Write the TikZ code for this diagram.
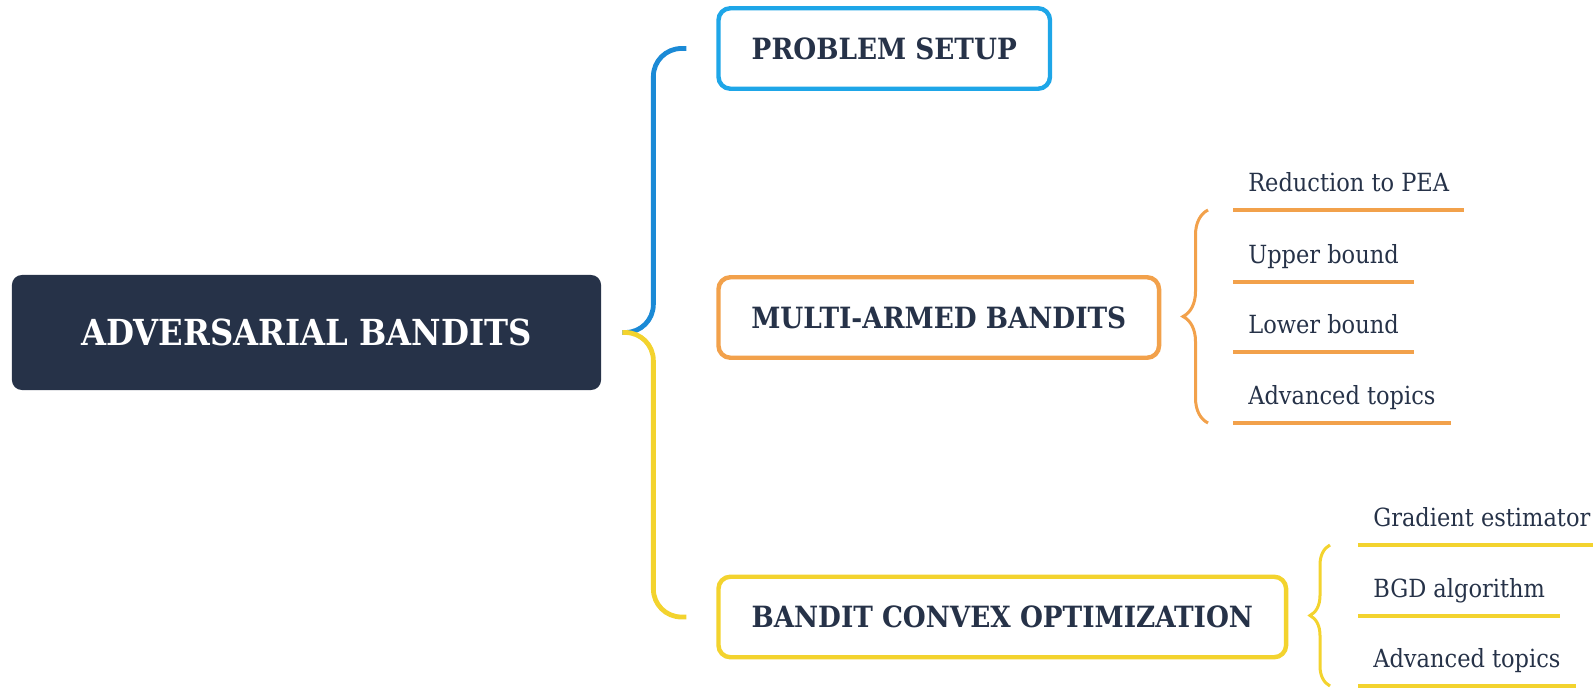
\documentclass[tikz,border=0pt]{standalone}
\usepackage{fontspec}
\setmainfont{DejaVu Serif Condensed}
\usepackage{tikz}
\usetikzlibrary{positioning,calc,decorations.pathreplacing}
\definecolor{MapNavy}{HTML}{263248}
\definecolor{MapBlue}{HTML}{1EA6E8}
\definecolor{MapBlueLine}{HTML}{1B8AD6}
\definecolor{MapOrange}{HTML}{F2A14B}
\definecolor{MapYellow}{HTML}{F3D32E}

\begin{document}
\begin{tikzpicture}[x=0.025cm, y=-0.025cm,
                    rootbox/.style={fill=MapNavy, rounded corners=0.25cm, text=white,
                                    minimum width=14.725cm, minimum height=2.875cm,
                                    font=\bfseries\fontsize{25.5}{30}\selectfont},
                    topic/.style={draw, line width=0.11cm, rounded corners=0.3cm, fill=white,
                                  anchor=west, text=MapNavy, minimum height=2.0125cm,
                                  font=\bfseries\fontsize{20.8}{25}\selectfont},
                    leaf/.style={anchor=south west, text=MapNavy, inner xsep=0.375cm, inner ysep=0cm,
                                 text height=0.5cm, text depth=0.45cm,
                                 font=\fontsize{17.8}{21}\selectfont},
                    branch/.style={line width=0.12cm, rounded corners=0.7cm},
                    uline/.style={line width=0.08cm},
                    subbrace/.style={line width=0.075cm, decorate,
                                     decoration={brace, amplitude=#1}}]
\useasboundingbox (0,0) rectangle (1593,688);
\node[rootbox] (root) at (306.5,332.5) {ADVERSARIAL BANDITS};
\node[topic, draw=MapBlue, minimum width=8.2875cm] (setup) at (716.25,48.5) {PROBLEM SETUP};
\node[topic, draw=MapOrange, minimum width=11.0125cm] (mab) at (716.25,317.5) {MULTI-ARMED BANDITS};
\node[topic, draw=MapYellow, minimum width=14.1875cm] (bco) at (716.25,617) {BANDIT CONVEX OPTIMIZATION};
\node[leaf] (pea) at (1233,210) {Reduction to PEA};
\node[leaf] (ub) at (1233,282) {Upper bound};
\node[leaf] (lb) at (1233,352) {Lower bound};
\node[leaf] (mabadv) at (1233,423) {Advanced topics};
\node[leaf] (grad) at (1358,545) {Gradient estimator};
\node[leaf] (bgd) at (1358,616) {BGD algorithm};
\node[leaf] (bcoadv) at (1358,686) {Advanced topics};
\draw[branch, MapBlueLine] ($(root.east)+(21,0)$) -- ++(31,0) |- ($(setup.west)+(-30,0)$);
\draw[branch, MapYellow] ($(root.east)+(21,0)$) -- ++(31,0) |- ($(bco.west)+(-30,0)$);
\foreach \n in {pea,ub,lb,mabadv}
  \draw[uline, MapOrange] (\n.south west) -- (\n.south east);
\foreach \n in {grad,bgd,bcoadv}
  \draw[uline, MapYellow] (\n.south west) -- (\n.south east);
\draw[subbrace=0.625cm, MapOrange] ($(mabadv.south west)+(-25,0)$) -- ($(pea.south west)+(-25,0)$);
\draw[subbrace=0.5cm, MapYellow] ($(bcoadv.south west)+(-28,0)$) -- ($(grad.south west)+(-28,0)$);
\end{tikzpicture}
\end{document}
